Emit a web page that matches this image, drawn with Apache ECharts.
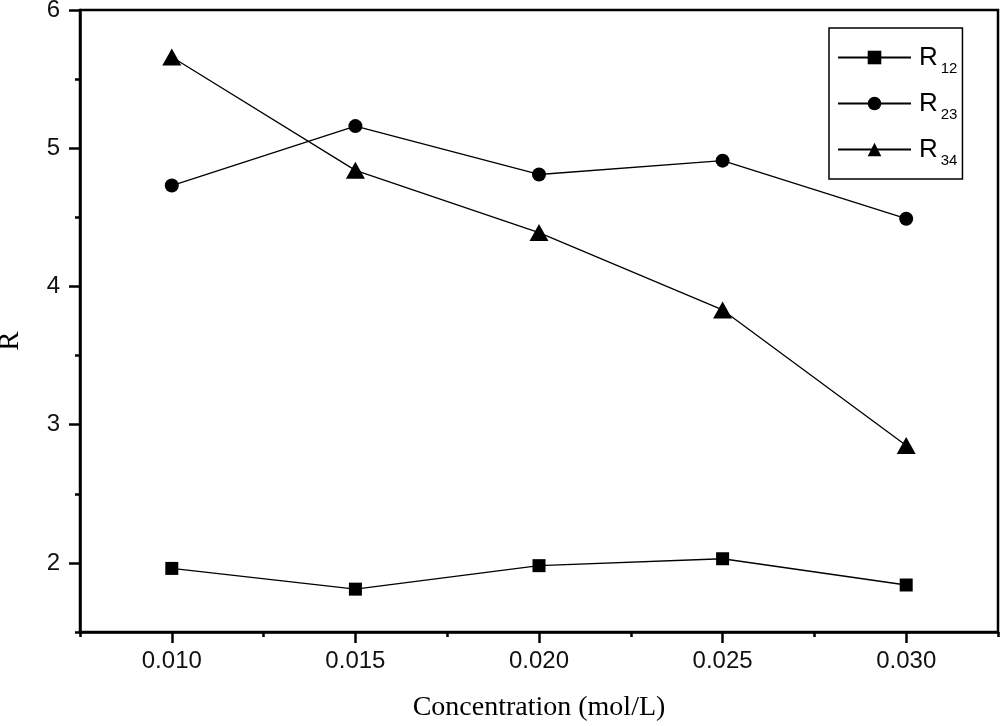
<!DOCTYPE html>
<html>
<head>
<meta charset="utf-8">
<script src="https://cdn.jsdelivr.net/npm/echarts@6/dist/echarts.min.js"></script>
<style>
  html, body { margin: 0; padding: 0; background: #fff; }
  #main { width: 1000px; height: 726px; }
</style>
</head>
<body>
<div id="main"></div>
<script>
// datos
var concentraciones = [0.010, 0.015, 0.020, 0.025, 0.030];
var r12 = [1.96, 1.81, 1.98, 2.03, 1.84];
var r23 = [4.73, 5.16, 4.81, 4.91, 4.49];
var r34 = [5.66, 4.84, 4.39, 3.83, 2.85];

var ticksX = [0.010, 0.015, 0.020, 0.025, 0.030];
var ticksXMenores = [0.0075, 0.0125, 0.0175, 0.0225, 0.0275, 0.0325];
var ticksY = [2, 3, 4, 5, 6];
var ticksYMenores = [1.5, 2.5, 3.5, 4.5, 5.5];

var fuenteSans = "'Liberation Sans', Arial, sans-serif";
var fuenteSerif = "'Liberation Serif', 'Times New Roman', serif";

const armarSerie = (nombre, valores, simbolo, tam) => {
    return {
        name: nombre,
        type: 'line',
        xAxisIndex: 0,
        yAxisIndex: 0,
        data: concentraciones.map((c, i) => [c, valores[i]]),
        symbol: simbolo,
        symbolSize: tam,
        lineStyle: { color: '#000', width: 1.3 },
        itemStyle: { color: '#000' },
        z: 5
    };
};

function ejeMenor(tipo, min, max, valores) {
    // eje superpuesto solo para las marcas menores
    var eje = {
        type: 'value',
        min: min,
        max: max,
        axisLine: { show: false },
        axisTick: { show: true, inside: false, length: 5, customValues: valores,
            lineStyle: { color: '#000', width: 2.5 } },
        axisLabel: { show: false },
        splitLine: { show: false }
    };
    eje.position = tipo == 'x' ? 'bottom' : 'left';
    return eje;
}

var myChart = echarts.init(document.getElementById('main'), null, { renderer: 'canvas' });

var opcion = {
    animation: false,
    backgroundColor: '#fff',
    grid: {
        left: 80, top: 10, right: 2, bottom: 94,
        containLabel: false,
        outerBoundsMode: 'none',
        show: true, borderColor: '#000', borderWidth: 2.5, backgroundColor: 'transparent'
    },
    legend: {
        orient: 'vertical',
        left: 829,
        top: 28,
        padding: [11, 5, 11, 8],
        itemGap: 9,
        itemWidth: 73,
        itemHeight: 17,
        backgroundColor: '#fff',
        borderColor: '#000',
        borderWidth: 1.5,
        borderRadius: 0,
        data: ['R12', 'R23', 'R34'],
        formatter: function (nombre) {
            return '{r|R}{s|' + nombre.substring(1) + '}';
        },
        textStyle: {
            rich: {
                r: { fontFamily: fuenteSans, fontSize: 26, color: '#000', lineHeight: 36,
                    verticalAlign: 'middle', padding: [0, 0, 0, 3] },
                s: { fontFamily: fuenteSans, fontSize: 15, color: '#000', lineHeight: 14,
                    padding: [22, 0, 0, 3] }
            }
        }
    },
    xAxis: [{
        type: 'value',
        min: 0.0075,
        max: 0.0325,
        name: 'Concentration (mol/L)',
        nameLocation: 'middle',
        nameGap: 62,
        nameTextStyle: { fontFamily: fuenteSerif, fontSize: 28, color: '#000' },
        axisLine: { show: true, onZero: false, lineStyle: { color: '#000', width: 2.5 } },
        axisTick: { show: true, inside: false, length: 11, customValues: ticksX,
            lineStyle: { color: '#000', width: 2.5 } },
        axisLabel: {
            customValues: ticksX,
            formatter: v => v.toFixed(3),
            fontFamily: fuenteSans, fontSize: 24, color: '#111', margin: 17
        },
        splitLine: { show: false }
    }, ejeMenor('x', 0.0075, 0.0325, ticksXMenores)],
    yAxis: [{
        type: 'value',
        min: 1.5,
        max: 6,
        name: 'R',
        nameLocation: 'middle',
        nameGap: 55,
        nameRotate: 90,
        nameTextStyle: { fontFamily: fuenteSerif, fontSize: 29, color: '#000', padding: [0, 0, 0, -40] },
        axisLine: { show: true, onZero: false, lineStyle: { color: '#000', width: 2.5 } },
        axisTick: { show: true, inside: false, length: 11, customValues: ticksY,
            lineStyle: { color: '#000', width: 2.5 } },
        axisLabel: {
            customValues: ticksY,
            formatter: v => String(v),
            fontFamily: fuenteSans, fontSize: 24, color: '#111', margin: 20
        },
        splitLine: { show: false }
    }, ejeMenor('y', 1.5, 6, ticksYMenores)],
    series: [
        armarSerie('R12', r12, 'rect', 13),
        armarSerie('R23', r23, 'circle', 14),
        armarSerie('R34', r34, 'triangle', [19, 17])
    ]
};

myChart.setOption(opcion);
</script>
</body>
</html>
